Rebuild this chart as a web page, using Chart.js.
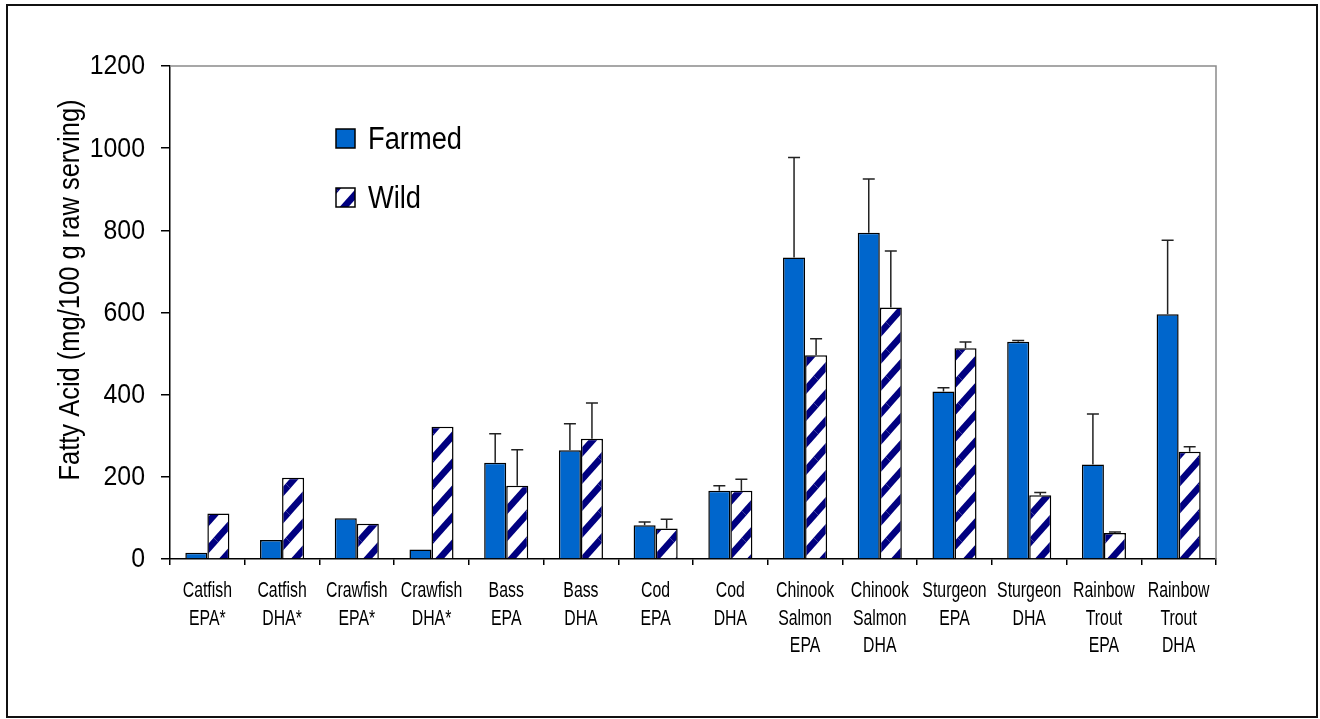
<!DOCTYPE html>
<html>
<head>
<meta charset="utf-8">
<script src="https://cdn.jsdelivr.net/npm/chart.js@4"></script>
<style>
  html, body { margin: 0; padding: 0; background: #fff; }
  canvas { display: block; }
</style>
</head>
<body>
<canvas id="fishChart" width="1320" height="719"></canvas>
<script>
const categories = [
  ['Catfish', 'EPA*'], ['Catfish', 'DHA*'], ['Crawfish', 'EPA*'], ['Crawfish', 'DHA*'],
  ['Bass', 'EPA'], ['Bass', 'DHA'], ['Cod', 'EPA'], ['Cod', 'DHA'],
  ['Chinook', 'Salmon', 'EPA'], ['Chinook', 'Salmon', 'DHA'],
  ['Sturgeon', 'EPA'], ['Sturgeon', 'DHA'],
  ['Rainbow', 'Trout', 'EPA'], ['Rainbow', 'Trout', 'DHA']
]
const farmed = [15, 46, 99, 23, 234, 265, 82, 166, 734, 794, 408, 529, 230, 596]
const wild = [111, 198, 86, 322, 178, 293, 74, 166, 496, 612, 513, 155, 63, 261]
// upper error bar lengths (no error bars for the * items)
const farmedErr = [0, 0, 0, 0, 71, 64, 8, 12, 243, 131, 9, 3, 123, 180]
const wildErr = [0, 0, 0, 0, 88, 87, 23, 28, 40, 138, 15, 7, 3, 12]
const yTicks = [0, 200, 400, 600, 800, 1000, 1200]
const yTitle = 'Fatty Acid (mg/100 g raw serving)'

const FONT = "'Liberation Sans', Arial, sans-serif"

// the original uses a narrow face, so squeeze the text sideways
function narrowText(ctx, text, x, y, size, squeeze) {
  ctx.save()
  ctx.translate(x, y)
  ctx.scale(squeeze, 1)
  ctx.font = size + 'px ' + FONT
  ctx.fillText(text, 0, 0)
  ctx.restore()
}

function stripePattern() {
  const w = 24, h = 27
  const c = document.createElement('canvas')
  c.width = w
  c.height = h
  const g = c.getContext('2d')
  g.fillStyle = '#ffffff'
  g.fillRect(0, 0, w, h)
  g.strokeStyle = '#000080'
  g.lineWidth = 6.5
  for (let dx = -1; dx <= 1; dx++) {
    for (let dy = -1; dy <= 1; dy++) {
      g.beginPath()
      g.moveTo(dx * w, h + dy * h)
      g.lineTo(w + dx * w, dy * h)
      g.stroke()
    }
  }
  return document.getElementById('fishChart').getContext('2d').createPattern(c, 'repeat')
}
const wildFill = stripePattern()

const errorBars = {
  id: 'errorBars',
  afterDatasetsDraw(chart) {
    const ctx = chart.ctx
    const y = chart.scales.y
    const errs = [farmedErr, wildErr]
    ctx.save()
    ctx.strokeStyle = '#222'
    ctx.lineWidth = 1.5
    chart.data.datasets.forEach((ds, i) => {
      chart.getDatasetMeta(i).data.forEach((bar, j) => {
        const e = errs[i][j]
        if (!e) return
        const top = y.getPixelForValue(ds.data[j] + e)
        ctx.beginPath()
        ctx.moveTo(bar.x, bar.y)
        ctx.lineTo(bar.x, top)
        ctx.moveTo(bar.x - 6, top)
        ctx.lineTo(bar.x + 6, top)
        ctx.stroke()
      })
    })
    ctx.restore()
  }
}

const labels = {
  id: 'labels',
  afterDraw(chart) {
    const ctx = chart.ctx
    const xs = chart.scales.x
    const ys = chart.scales.y
    ctx.save()
    ctx.fillStyle = '#000'
    ctx.textBaseline = 'alphabetic'
    ctx.textAlign = 'center'
    // category labels
    chart.data.labels.forEach((lines, i) => {
      const x = xs.getPixelForTick(i)
      lines.forEach((t, k) => narrowText(ctx, t, x, 597 + k * 27.5, 22, 0.72))
    })
    // value labels
    ctx.textAlign = 'right'
    ctx.textBaseline = 'middle'
    yTicks.forEach(v => narrowText(ctx, String(v), 145, ys.getPixelForValue(v) + 1, 27, 0.92))
    // axis title
    ctx.save()
    ctx.translate(71, 290)
    ctx.rotate(-Math.PI / 2)
    ctx.textAlign = 'center'
    narrowText(ctx, yTitle, 0, 0, 30, 0.85)
    ctx.restore()
    ctx.restore()
  }
}

const frame = {
  id: 'frame',
  afterDraw(chart) {
    const ctx = chart.ctx
    const a = chart.chartArea
    ctx.save()
    // plot area border (top and right)
    ctx.strokeStyle = '#8a8a8a'
    ctx.lineWidth = 1.5
    ctx.beginPath()
    ctx.moveTo(a.left, a.top)
    ctx.lineTo(a.right, a.top)
    ctx.lineTo(a.right, a.bottom)
    ctx.stroke()
    // outer chart border
    ctx.strokeStyle = '#111'
    ctx.lineWidth = 2
    ctx.strokeRect(7, 5, 1310, 712)
    // legend
    chart.data.datasets.forEach((ds, i) => {
      const bx = 336, by = 129 + i * 59
      ctx.fillStyle = ds.backgroundColor
      ctx.fillRect(bx, by, 19, 19)
      ctx.strokeStyle = '#000'
      ctx.lineWidth = 1.5
      ctx.strokeRect(bx, by, 19, 19)
      ctx.fillStyle = '#000'
      ctx.textAlign = 'left'
      ctx.textBaseline = 'middle'
      narrowText(ctx, ds.label, 368, by + 11, 31, 0.88)
    })
    ctx.restore()
  }
}

window.addEventListener('load', function () {
  const ctx = document.getElementById('fishChart').getContext('2d')
  window.fishChart = new Chart(ctx, {
    type: 'bar',
    data: {
      labels: categories,
      datasets: [
        {
          label: 'Farmed',
          data: farmed,
          backgroundColor: '#0066cc',
          borderColor: '#000',
          borderWidth: 1.5,
          categoryPercentage: 0.59,
          barPercentage: 1.0
        },
        {
          label: 'Wild',
          data: wild,
          backgroundColor: wildFill,
          borderColor: '#000',
          borderWidth: 1.5,
          categoryPercentage: 0.59,
          barPercentage: 1.0
        }
      ]
    },
    options: {
      responsive: false,
      animation: false,
      devicePixelRatio: 1,
      layout: { padding: { top: 66, right: 104, left: 0, bottom: 0 } },
      plugins: {
        legend: { display: false },
        tooltip: { enabled: false }
      },
      scales: {
        x: {
          afterFit: s => { s.height = 160 },
          grid: { drawOnChartArea: false, tickLength: 6, color: '#000', lineWidth: 1.5 },
          border: { color: '#000', width: 1.5 },
          ticks: { display: false }
        },
        y: {
          min: 0,
          max: 1200,
          afterFit: s => { s.width = 170 },
          afterBuildTicks: s => { s.ticks = yTicks.map(v => ({ value: v })) },
          grid: { drawOnChartArea: false, tickLength: 9, color: '#000', lineWidth: 1.5 },
          border: { color: '#000', width: 1.5 },
          ticks: { display: false }
        }
      }
    },
    plugins: [errorBars, labels, frame]
  })
  return window.fishChart
})
</script>
</body>
</html>
